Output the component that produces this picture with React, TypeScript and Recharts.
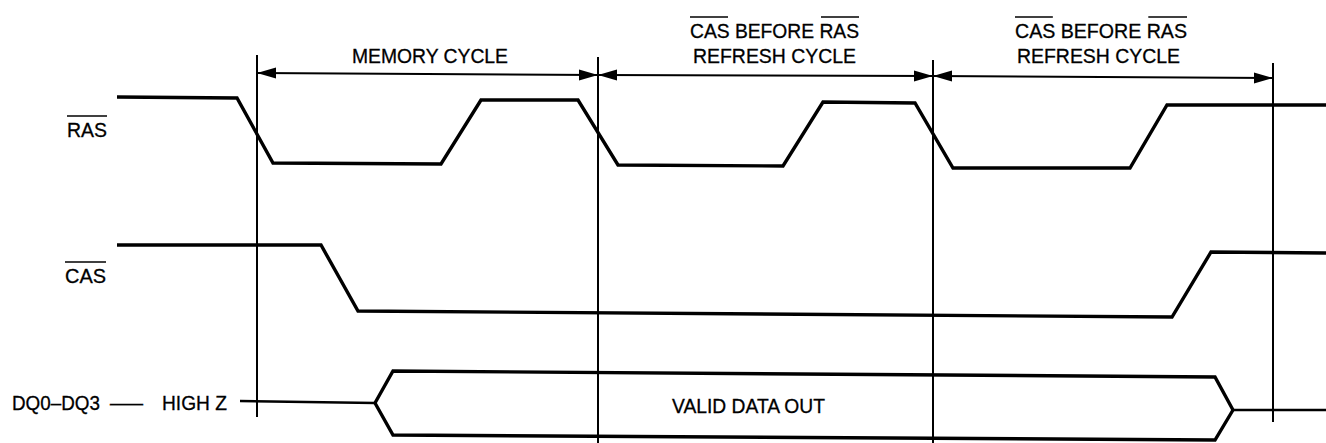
import { ComposedChart, Line, Scatter, XAxis, YAxis } from "recharts";

// timing diagram, x = time position, y = signal level (screen units, top = 0)
const rasTime = [117, 237, 273, 441, 481, 578, 618, 783, 823, 915, 953, 1130, 1167, 1326];
const rasLevel = [97, 98, 163, 164, 100, 100, 165, 166, 102, 103, 168, 168, 105, 105];

const casTime = [117, 321, 358, 1172, 1211, 1326];
const casLevel = [245, 245, 311, 317, 252, 253];

const highZTime = [240, 375];
const highZLevel = [401, 403];
const busUpperTime = [375, 393, 1215, 1233];
const busUpperLevel = [403, 371, 377, 410];
const busLowerTime = [375, 393, 1215, 1233];
const busLowerLevel = [403, 435, 440, 410];
const dqTailTime = [1233, 1326];
const dqTailLevel = [410, 410];

const boundaryTime = [257, 598, 933, 1273];
const boundaryTop = [55, 57, 60, 63];
const boundaryBottom = [417, 443, 443, 422];

const dimTime = [257, 598, 933, 1273];
const dimLevel = [73, 75, 76, 78];
const arrowTime = [257, 598, 598, 933, 933, 1273];
const arrowLevel = [73, 75, 75, 76, 76, 78];
const arrowDir = [-1, 1, -1, 1, -1, 1];

const labelText = [
  "RAS",
  "CAS",
  "DQ0–DQ3",
  "—",
  "HIGH Z",
  "MEMORY CYCLE",
  "CAS BEFORE RAS",
  "REFRESH CYCLE",
  "CAS BEFORE RAS",
  "REFRESH CYCLE",
  "VALID DATA OUT",
];
const labelX = [67, 65, 12, 110, 162, 352, 690, 693, 1015, 1017, 672];
const labelY = [137, 283, 410, 410, 410, 63, 38, 63, 38, 63, 413];
const labelWidth = [40, 41, 88, 33, 65, 156, 169, 163, 172, 163, 153];
// overline spans as fractions of the label width
const labelBars: number[][][] = [
  [[0, 1]],
  [[0, 1]],
  [],
  [],
  [],
  [],
  [[0, 0.225], [0.775, 1]],
  [],
  [[0, 0.22], [0.775, 1]],
  [],
  [],
];

const zip = (xs: number[], ys: number[]) => xs.map((x, i) => ({ x, y: ys[i] }));

const ras = zip(rasTime, rasLevel);
const cas = zip(casTime, casLevel);
const highZ = zip(highZTime, highZLevel);
const busUpper = zip(busUpperTime, busUpperLevel);
const busLower = zip(busLowerTime, busLowerLevel);
const dqTail = zip(dqTailTime, dqTailLevel);
const boundaries = boundaryTime.map((x, i) => [
  { x, y: boundaryTop[i] },
  { x, y: boundaryBottom[i] },
]);
const dim = zip(dimTime, dimLevel);
const arrows = arrowTime.map((x, i) => ({ x, y: arrowLevel[i], dir: arrowDir[i] }));
const labels = labelText.map((text, i) => ({
  x: labelX[i],
  y: labelY[i],
  text,
  width: labelWidth[i],
  bars: labelBars[i],
}));

const INK = "#000";
const FONT = "'Liberation Sans', Arial, Helvetica, sans-serif";

function ArrowHead(props: any) {
  const { cx, cy, payload } = props;
  const d = payload.dir;
  const len = 19;
  const half = 5.5;
  return (
    <path
      d={`M${cx},${cy} L${cx - d * len},${cy - half} L${cx - d * len},${cy + half} Z`}
      fill={INK}
    />
  );
}

function TextMark(props: any) {
  const { cx, cy, payload } = props;
  const w = payload.width;
  return (
    <g>
      <text
        x={cx}
        y={cy}
        fontFamily={FONT}
        fontSize={21}
        fill={INK}
        stroke={INK}
        strokeWidth={0.3}
        textLength={w}
        lengthAdjust="spacingAndGlyphs"
      >
        {payload.text}
      </text>
      {payload.bars.map((b: number[], i: number) => (
        <line
          key={i}
          x1={cx + b[0] * w}
          x2={cx + b[1] * w}
          y1={cy - 21}
          y2={cy - 21}
          stroke={INK}
          strokeWidth={1.5}
        />
      ))}
    </g>
  );
}

export default function App() {
  return (
    <div style={{ position: "absolute", left: 0, top: 0, background: "#fff" }}>
      <ComposedChart width={1326} height={443} margin={{ top: 0, right: 0, bottom: 0, left: 0 }}>
        <XAxis dataKey="x" type="number" domain={[0, 1326]} hide />
        <YAxis dataKey="y" type="number" domain={[0, 443]} reversed hide />

        {boundaries.map((b, i) => (
          <Line
            key={`b${i}`}
            data={b}
            dataKey="y"
            type="linear"
            stroke={INK}
            strokeWidth={2}
            dot={false}
            isAnimationActive={false}
          />
        ))}
        <Line data={dim} dataKey="y" type="linear" stroke={INK} strokeWidth={2} dot={false} isAnimationActive={false} />
        <Scatter data={arrows} dataKey="y" shape={<ArrowHead />} isAnimationActive={false} />

        <Line data={ras} dataKey="y" type="linear" stroke={INK} strokeWidth={3.4} dot={false} isAnimationActive={false} />
        <Line data={cas} dataKey="y" type="linear" stroke={INK} strokeWidth={3.4} dot={false} isAnimationActive={false} />
        <Line data={highZ} dataKey="y" type="linear" stroke={INK} strokeWidth={2.4} dot={false} isAnimationActive={false} />
        <Line data={busUpper} dataKey="y" type="linear" stroke={INK} strokeWidth={3.4} dot={false} isAnimationActive={false} />
        <Line data={busLower} dataKey="y" type="linear" stroke={INK} strokeWidth={3.4} dot={false} isAnimationActive={false} />
        <Line data={dqTail} dataKey="y" type="linear" stroke={INK} strokeWidth={2.4} dot={false} isAnimationActive={false} />

        <Scatter data={labels} dataKey="y" shape={<TextMark />} isAnimationActive={false} />
      </ComposedChart>
    </div>
  );
}
